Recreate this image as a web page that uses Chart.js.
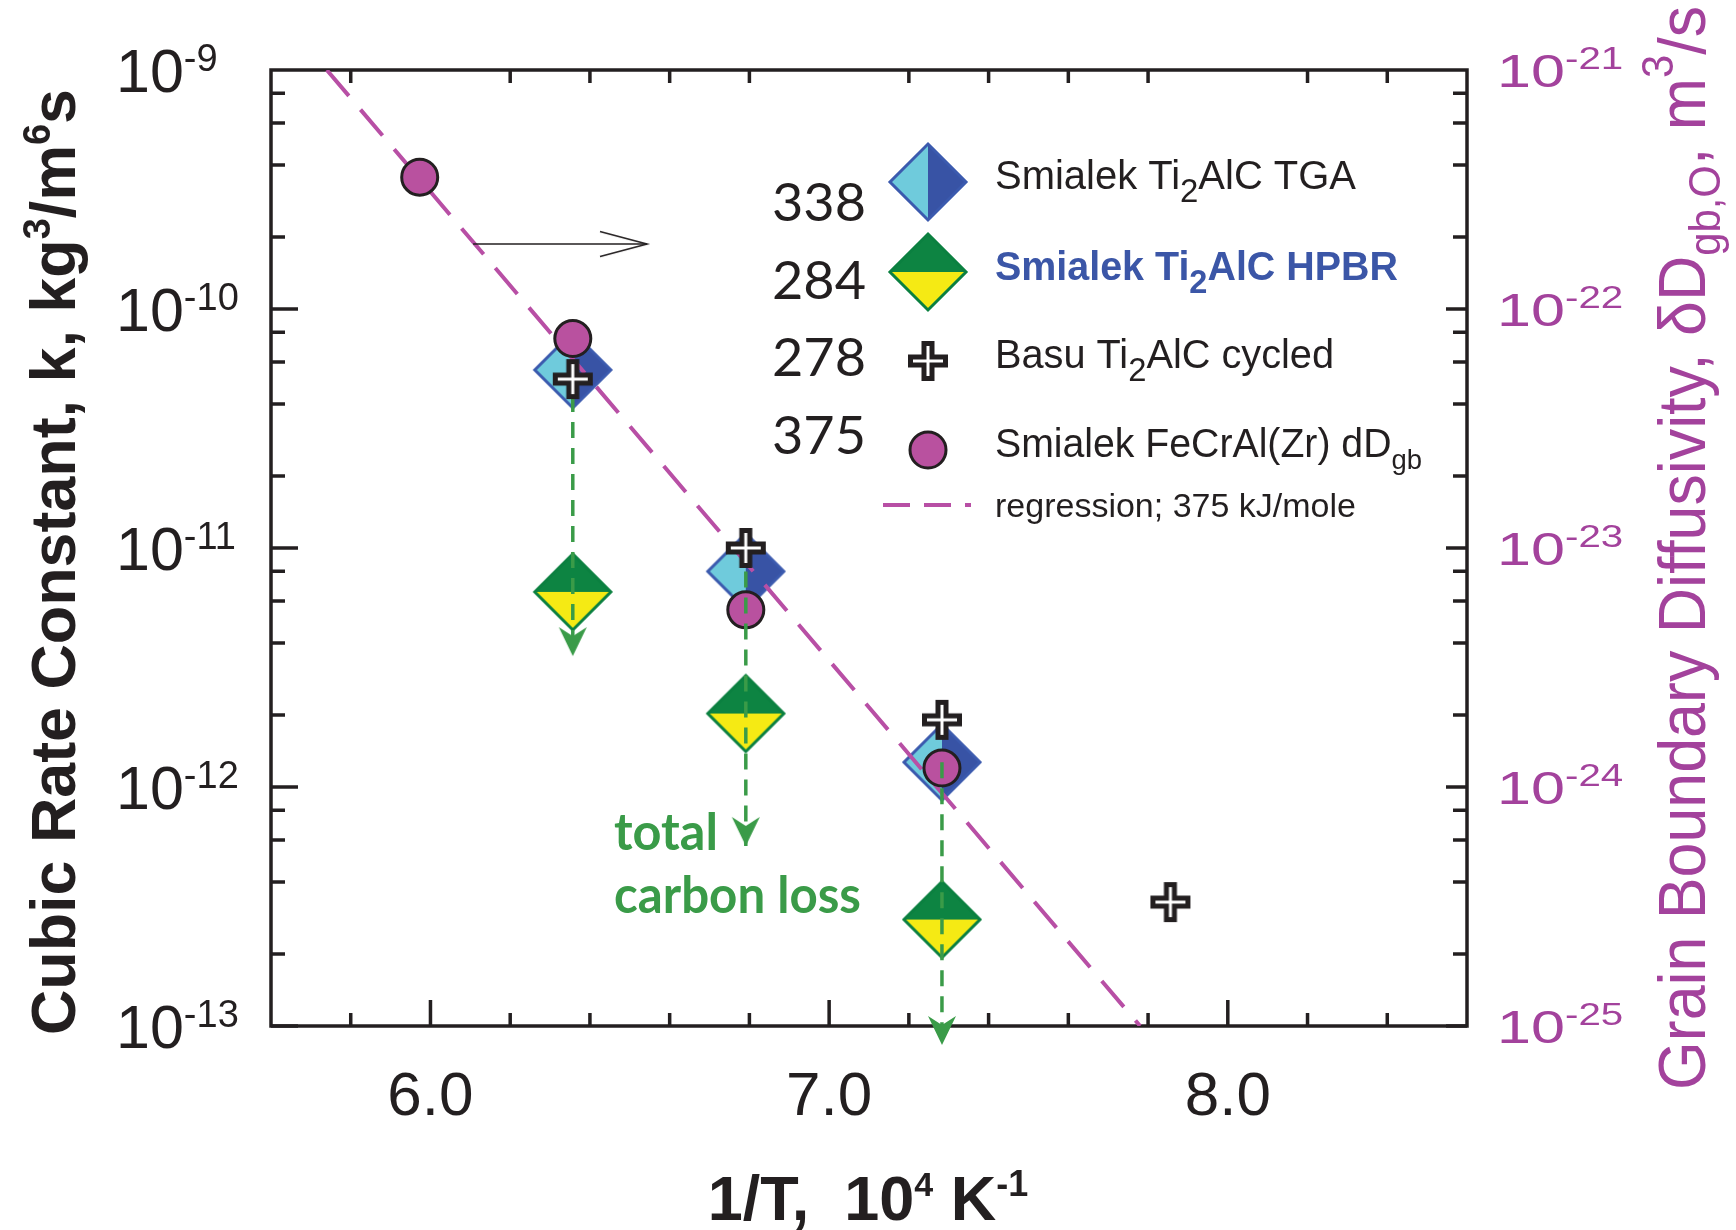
<!DOCTYPE html>
<html>
<head>
<meta charset="utf-8">
<script src="https://cdn.jsdelivr.net/npm/chart.js@4.4.1/dist/chart.umd.min.js"></script>
<style>
  html, body { margin: 0; padding: 0; background: #fff; }
  #quadro { width: 1736px; height: 1230px; position: relative; }
</style>
</head>
<body>
<div id="quadro"><canvas id="grafico"></canvas></div>
<script>
// valores: 1/T em 10^4 K^-1, k em kg^3/m^6 s
const colX = [6.357, 6.791, 7.283];
const tgaK = [5.56e-11, 7.98e-12, 1.27e-12];
const hpbrK = [6.55e-12, 2.03e-12, 2.79e-13];
const perdaK = [3.53e-12, 5.67e-13, 8.33e-14]; // pontas das setas verdes
const basuX = [6.357, 6.791, 7.283, 7.856];
const basuK = [5.09e-11, 1.0e-11, 1.91e-12, 3.3e-13];
const fecrX = [5.973, 6.357, 6.791, 7.283];
const fecrK = [3.56e-10, 7.52e-11, 5.51e-12, 1.2e-12];
const regX = [5.74, 7.78];
const regK = [1e-9, 1e-13];
const setaX = [6.107, 6.543];
const setaK = [1.87e-10, 1.87e-10];

const xTicks = ['6.0', '7.0', '8.0'];
const yExp = [-9, -10, -11, -12, -13];
const y2Exp = [-21, -22, -23, -24, -25];
const energias = ['338', '284', '278', '375'];

const PRETO = '#231f20';
const MAGENTA = '#a3429c';
const VERDE = '#3a9b48';

function novoCanvas(w, h) {
  const c = document.createElement('canvas');
  c.width = w; c.height = h;
  return c;
}

// losango de duas cores (vertical: metade esq/dir, senao cima/baixo)
function losango(cor1, cor2, borda, vertical) {
  const r = 38, m = r + 3;
  const c = novoCanvas(2 * m, 2 * m), g = c.getContext('2d');
  g.fillStyle = cor1;
  g.beginPath();
  if (vertical) { g.moveTo(m, m - r); g.lineTo(m - r, m); g.lineTo(m, m + r); }
  else { g.moveTo(m - r, m); g.lineTo(m, m - r); g.lineTo(m + r, m); }
  g.closePath(); g.fill();
  g.fillStyle = cor2;
  g.beginPath();
  if (vertical) { g.moveTo(m, m - r); g.lineTo(m + r, m); g.lineTo(m, m + r); }
  else { g.moveTo(m - r, m); g.lineTo(m, m + r); g.lineTo(m + r, m); }
  g.closePath(); g.fill();
  g.strokeStyle = borda; g.lineWidth = 3;
  g.beginPath();
  g.moveTo(m, m - r); g.lineTo(m + r, m); g.lineTo(m, m + r); g.lineTo(m - r, m);
  g.closePath(); g.stroke();
  return c;
}

function cruz() {
  const c = novoCanvas(46, 46), g = c.getContext('2d'), m = 23;
  g.lineCap = 'butt';
  g.strokeStyle = PRETO; g.lineWidth = 13;
  g.beginPath(); g.moveTo(m - 20, m); g.lineTo(m + 20, m); g.moveTo(m, m - 20); g.lineTo(m, m + 20); g.stroke();
  g.strokeStyle = '#fff'; g.lineWidth = 3;
  g.beginPath(); g.moveTo(m - 15, m); g.lineTo(m + 15, m); g.moveTo(m, m - 15); g.lineTo(m, m + 15); g.stroke();
  return c;
}

// ponta da seta verde, com a ponta no centro da imagem
function pontaVerde() {
  const c = novoCanvas(32, 64), g = c.getContext('2d');
  g.fillStyle = VERDE;
  g.beginPath(); g.moveTo(16, 32); g.lineTo(2, 3); g.lineTo(16, 12); g.lineTo(30, 3); g.closePath(); g.fill();
  return c;
}

function pontaPreta() {
  const c = novoCanvas(100, 30), g = c.getContext('2d');
  g.strokeStyle = PRETO; g.lineWidth = 1.6;
  g.beginPath(); g.moveTo(3, 2.5); g.lineTo(50, 15); g.lineTo(3, 27.5); g.stroke();
  return c;
}

const imgTGA = losango('#6fcbdc', '#3853a5', '#3b5aae', true);
const imgHPBR = losango('#0d8442', '#f5ea14', '#0b8040', false);
const imgCruz = cruz();
const imgSeta = pontaVerde();
const imgChevron = pontaPreta();

const F = (s, b, fam) => (b ? 'bold ' : '') + s + 'px ' + (fam || '"Liberation Sans"');

function escreve(ctx, partes, x, y, op) {
  op = op || {};
  let w = 0;
  for (const p of partes) { ctx.font = p.f; w += ctx.measureText(p.t).width; }
  const sx = op.width ? op.width / w : (op.sx || 1);
  const x0 = op.align === 'center' ? -w / 2 : op.align === 'right' ? -w : 0;
  ctx.save();
  ctx.translate(x, y);
  if (op.rot) ctx.rotate(op.rot);
  ctx.scale(sx, 1);
  ctx.fillStyle = op.color || PRETO;
  ctx.textAlign = 'left';
  ctx.textBaseline = 'alphabetic';
  let cx = x0;
  for (const p of partes) {
    ctx.font = p.f;
    ctx.fillText(p.t, cx, p.dy || 0);
    cx += ctx.measureText(p.t).width;
  }
  ctx.restore();
}

const moldura = {
  id: 'moldura',
  beforeDatasetsDraw(chart) {
    const { ctx, chartArea: a, scales: { x, y, y2 } } = chart;
    ctx.save();
    ctx.strokeStyle = PRETO;
    ctx.lineWidth = 3.5;
    ctx.strokeRect(a.left, a.top, a.right - a.left, a.bottom - a.top);
    ctx.beginPath();
    for (let i = 1; i < 15; i++) {
      const v = 5.6 + i * 0.2;
      const px = x.getPixelForValue(v);
      const major = Math.abs(v - Math.round(v)) < 1e-6;
      ctx.moveTo(px, a.bottom); ctx.lineTo(px, a.bottom - (major ? 26 : 13));
      if (!major) { ctx.moveTo(px, a.top); ctx.lineTo(px, a.top + 13); }
    }
    for (let e = -13; e <= -10; e++) {
      [1, 2, 4, 6, 8].forEach(m => {
        const major = m === 1;
        const pl = y.getPixelForValue(m * Math.pow(10, e));
        const pr = y2.getPixelForValue(m * Math.pow(10, e - 12));
        ctx.moveTo(a.left, pl); ctx.lineTo(a.left + (major ? 27 : 14), pl);
        ctx.moveTo(a.right, pr); ctx.lineTo(a.right - (major ? 21 : 14), pr);
      });
    }
    ctx.stroke();
    ctx.restore();
  }
};

const textos = {
  id: 'textos',
  afterDraw(chart) {
    const { ctx, scales: { x, y, y2 } } = chart;

    yExp.forEach(e => {
      const py = y.getPixelForValue(Math.pow(10, e));
      escreve(ctx, [{ t: '10', f: F(61) }, { t: String(e), f: F(38), dy: -21 }], 116, py + 22);
    });
    y2Exp.forEach(e => {
      const py = y2.getPixelForValue(Math.pow(10, e));
      escreve(ctx, [{ t: '10', f: F(47) }, { t: String(e), f: F(31), dy: -18 }], 1497, py + 17,
        { sx: 1.3, color: MAGENTA });
    });
    xTicks.forEach(t => {
      escreve(ctx, [{ t: t, f: F(62) }], x.getPixelForValue(parseFloat(t)), 1115, { align: 'center' });
    });

    // titulos dos eixos
    escreve(ctx, [
      { t: '1/T,  10', f: F(63, true) }, { t: '4', f: F(34, true), dy: -24 },
      { t: ' K', f: F(63, true) }, { t: '-1', f: F(36, true), dy: -24 }
    ], 868, 1220, { align: 'center' });

    escreve(ctx, [
      { t: 'Cubic Rate Constant, k, kg', f: F(63, true) }, { t: '3', f: F(38, true), dy: -25 },
      { t: '/m', f: F(63, true) }, { t: '6', f: F(38, true), dy: -25 },
      { t: 's', f: F(63, true) }
    ], 75, 562, { align: 'center', rot: -Math.PI / 2, width: 946 });

    escreve(ctx, [
      { t: 'Grain Boundary Diffusivity, \u03b4D', f: F(66) }, { t: 'gb,O', f: F(44), dy: 15 },
      { t: ', m', f: F(66) }, { t: '3', f: F(44), dy: -32 }, { t: '/s', f: F(66) }
    ], 1705, 548, { align: 'center', rot: -Math.PI / 2, width: 1084, color: MAGENTA });

    // legenda
    const linhas = [221, 299, 376, 454];
    energias.forEach((n, i) => escreve(ctx, [{ t: n, f: F(53, false, 'Lato') }], 772, linhas[i], { width: 94 }));
    ctx.drawImage(imgTGA, 928 - imgTGA.width / 2, 182 - imgTGA.height / 2);
    ctx.drawImage(imgHPBR, 928 - imgHPBR.width / 2, 272 - imgHPBR.height / 2);
    ctx.drawImage(imgCruz, 928 - imgCruz.width / 2, 361 - imgCruz.height / 2);
    ctx.save();
    ctx.fillStyle = '#b9519f'; ctx.strokeStyle = PRETO; ctx.lineWidth = 3;
    ctx.beginPath(); ctx.arc(928, 450, 18, 0, Math.PI * 2); ctx.fill(); ctx.stroke();
    ctx.strokeStyle = '#b84fa5'; ctx.lineWidth = 4; ctx.setLineDash([27, 14]);
    ctx.beginPath(); ctx.moveTo(883, 505); ctx.lineTo(971, 505); ctx.stroke();
    ctx.restore();

    escreve(ctx, [{ t: 'Smialek Ti', f: F(40) }, { t: '2', f: F(33), dy: 13 }, { t: 'AlC TGA', f: F(40) }],
      995, 189, { width: 361 });
    escreve(ctx, [{ t: 'Smialek Ti', f: F(40, true) }, { t: '2', f: F(33, true), dy: 13 }, { t: 'AlC HPBR', f: F(40, true) }],
      995, 280, { width: 403, color: '#3b56a7' });
    escreve(ctx, [{ t: 'Basu Ti', f: F(40) }, { t: '2', f: F(33), dy: 13 }, { t: 'AlC cycled', f: F(40) }],
      995, 368, { width: 339 });
    escreve(ctx, [{ t: 'Smialek FeCrAl(Zr) dD', f: F(40) }, { t: 'gb', f: F(28), dy: 12 }],
      995, 457, { width: 427 });
    escreve(ctx, [{ t: 'regression; 375 kJ/mole', f: F(34) }], 995, 517, { width: 361 });

    // anotacao verde
    escreve(ctx, [{ t: 'total', f: F(51, true, 'Lato') }], 614, 850, { width: 104, color: VERDE });
    escreve(ctx, [{ t: 'carbon loss', f: F(51, true, 'Lato') }], 614, 913, { width: 247, color: VERDE });
  }
};

const pares = (xs, ys) => xs.map((v, i) => ({ x: v, y: ys[i] }));

const datasets = [
  { label: 'Basu Ti2AlC cycled', data: pares(basuX, basuK), pointStyle: imgCruz, pointRadius: 20, order: 1 },
  {
    label: 'seta', data: pares(setaX, setaK), showLine: true, borderColor: PRETO, borderWidth: 1.6,
    pointStyle: imgChevron, pointRadius: [0, 30], order: 0
  },
  {
    label: 'Smialek FeCrAl(Zr)', data: pares(fecrX, fecrK), pointStyle: 'circle', pointRadius: 18,
    backgroundColor: '#b9519f', borderColor: PRETO, borderWidth: 3, order: 3
  },
  {
    label: 'regression', data: pares(regX, regK), showLine: true, borderColor: '#b84fa5', borderWidth: 4,
    borderDash: [34, 18], pointRadius: 0, order: 4
  },
  { label: 'Smialek Ti2AlC HPBR', data: pares(colX, hpbrK), pointStyle: imgHPBR, pointRadius: 38, order: 5 },
  { label: 'Smialek Ti2AlC TGA', data: pares(colX, tgaK), pointStyle: imgTGA, pointRadius: 38, order: 6 }
];

colX.forEach((cx, i) => {
  datasets.push({
    label: 'perda ' + i,
    data: [{ x: cx, y: tgaK[i] }, { x: cx, y: perdaK[i] }],
    showLine: true, borderColor: VERDE, borderWidth: 3.5, borderDash: [16, 10],
    pointStyle: imgSeta, pointRadius: [0, 34], clip: false, order: 2
  });
});

new Chart(document.getElementById('grafico').getContext('2d'), {
  type: 'scatter',
  data: { datasets: datasets },
  options: {
    responsive: true,
    maintainAspectRatio: false,
    animation: false,
    events: [],
    layout: { padding: { left: 271, right: 269, top: 70, bottom: 204 } },
    scales: {
      x: { type: 'linear', min: 5.6, max: 8.6, display: false },
      y: { type: 'logarithmic', min: 1e-13, max: 1e-9, display: false },
      y2: { type: 'logarithmic', position: 'right', min: 1e-25, max: 1e-21, display: false }
    },
    plugins: {
      legend: { display: false },
      tooltip: { enabled: false }
    }
  },
  plugins: [moldura, textos]
});
</script>
</body>
</html>
